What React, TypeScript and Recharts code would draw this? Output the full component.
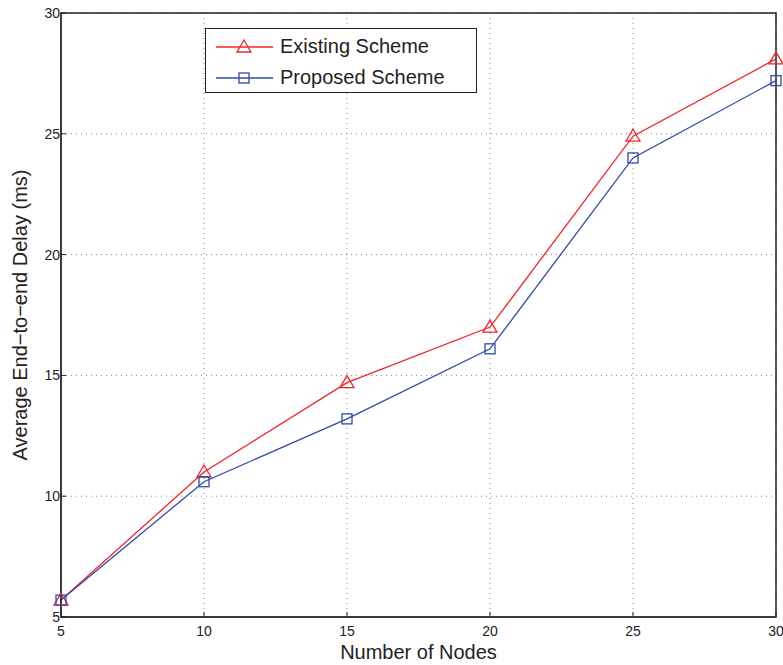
import React from 'react'
import {
  CartesianGrid,
  Line,
  LineChart,
  ReferenceArea,
  XAxis,
  YAxis
} from 'recharts'

const nodes = [5, 10, 15, 20, 25, 30]
const existingScheme = [5.7, 11.0, 14.7, 17.0, 24.9, 28.1]
const proposedScheme = [5.7, 10.6, 13.2, 16.1, 24.0, 27.2]
const xTicks = [5, 10, 15, 20, 25, 30]
const yTicks = [5, 10, 15, 20, 25, 30]

const RED = '#f0262b'
const BLUE = '#2f4ca8'
const FONT = '"Liberation Sans", Arial, Helvetica, sans-serif'

const data = nodes.map((n, i) => ({
  nodes: n,
  existing: existingScheme[i],
  proposed: proposedScheme[i]
}))

const Triangle = (props: any) => {
  const { cx, cy } = props
  if (cx == null || cy == null) return null
  return (
    <path
      d={`M${cx},${cy - 7} L${cx + 7},${cy + 5} L${cx - 7},${cy + 5} Z`}
      fill="none"
      stroke={RED}
      strokeWidth={1.3}
    />
  )
}

const Square = (props: any) => {
  const { cx, cy } = props
  if (cx == null || cy == null) return null
  return (
    <rect x={cx - 5} y={cy - 5} width={10} height={10} fill="none" stroke={BLUE} strokeWidth={1.3} />
  )
}

const LegendBox = () => (
  <div
    style={{
      position: 'absolute',
      left: 205,
      top: 28,
      width: 270,
      height: 63,
      border: '1.5px solid #222',
      background: '#fff',
      fontFamily: FONT,
      fontSize: 20,
      color: '#222'
    }}
  >
    {[
      { label: 'Existing Scheme', color: RED, mark: 'tri' },
      { label: 'Proposed Scheme', color: BLUE, mark: 'sq' }
    ].map((it, i) => (
      <div key={i} style={{ display: 'flex', alignItems: 'center', height: 31, marginTop: i === 0 ? 2 : 0 }}>
        <svg width={74} height={20} style={{ flex: 'none' }}>
          <line x1={10} y1={10} x2={67} y2={10} stroke={it.color} strokeWidth={1.3} />
          {it.mark === 'tri' ? <Triangle cx={38} cy={10} /> : <Square cx={38} cy={10} />}
        </svg>
        <span>{it.label}</span>
      </div>
    ))}
  </div>
)

export default function App() {
  return (
    <div style={{ position: 'absolute', left: 0, top: 0, width: 783, height: 665, background: '#fff' }}>
      <LineChart width={783} height={665} data={data} margin={{ top: 13, right: 7, left: 0, bottom: 0 }}>
        <CartesianGrid stroke="#888" strokeDasharray="1 4" />
        <XAxis
          dataKey="nodes"
          type="number"
          domain={[5, 30]}
          ticks={xTicks}
          height={48}
          stroke="#222"
          tickLine={{ stroke: '#222' }}
          tickSize={-5}
          tickMargin={14}
          tick={{ fill: '#222', fontSize: 14, fontFamily: FONT }}
          label={{
            value: 'Number of Nodes',
            position: 'insideBottom',
            offset: 6,
            style: { fill: '#222', fontSize: 20, fontFamily: FONT }
          }}
        />
        <YAxis
          type="number"
          domain={[5, 30]}
          ticks={yTicks}
          width={61}
          stroke="#222"
          tickLine={{ stroke: '#222' }}
          tickSize={-5}
          tickMargin={6}
          tick={{ fill: '#222', fontSize: 14, fontFamily: FONT }}
          label={{
            value: 'Average End\u2212to\u2212end Delay (ms)',
            angle: -90,
            position: 'insideLeft',
            offset: 20,
            style: { fill: '#222', fontSize: 20, fontFamily: FONT, textAnchor: 'middle' }
          }}
        />
        <ReferenceArea x1={5} x2={30} y1={5} y2={30} fill="none" stroke="#222" strokeWidth={1.5} />
        <Line
          dataKey="existing"
          stroke={RED}
          strokeWidth={1.3}
          dot={<Triangle />}
          activeDot={false}
          isAnimationActive={false}
        />
        <Line
          dataKey="proposed"
          stroke={BLUE}
          strokeWidth={1.3}
          dot={<Square />}
          activeDot={false}
          isAnimationActive={false}
        />
      </LineChart>
      <LegendBox />
    </div>
  )
}
